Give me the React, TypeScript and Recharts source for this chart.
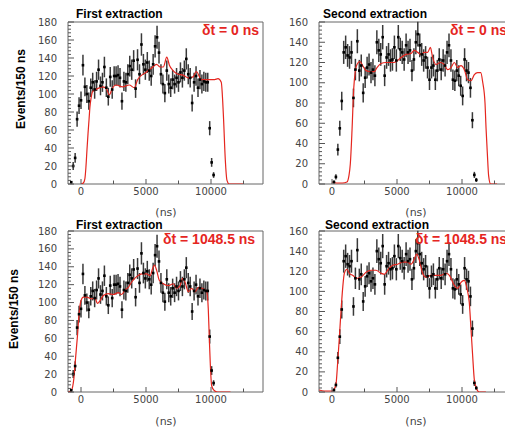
import { ComposedChart, Line, Scatter, ErrorBar, XAxis, YAxis, ReferenceArea } from 'recharts'

// histogram bins, 150 ns wide
const BIN_WIDTH = 150

const FIRST_START = -750
const FIRST_COUNTS = [
  2, 20, 29, 72, 87, 93, 132, 108, 100, 92,
  107, 113, 105, 114, 127, 109, 113, 130, 107, 97,
  119, 105, 120, 120, 121, 118, 92, 114, 113, 122,
  131, 127, 137, 106, 138, 122, 155, 133, 127, 135,
  126, 120, 133, 153, 163, 146, 122, 111, 101, 126,
  111, 107, 116, 111, 118, 113, 124, 118, 126, 139,
  122, 118, 90, 113, 120, 107, 116, 111, 114, 113,
  113, 62, 24, 10,
]

const SECOND_START = 150
const SECOND_COUNTS = [
  2, 7, 34, 55, 82, 130, 135, 127, 125, 130,
  85, 113, 141, 112, 117, 90, 105, 115, 118, 110,
  113, 107, 140, 132, 128, 145, 107, 125, 128, 122,
  123, 135, 122, 145, 133, 130, 123, 137, 130, 132,
  112, 123, 140, 148, 137, 128, 122, 125, 115, 103,
  115, 117, 103, 112, 123, 113, 122, 117, 130, 137,
  122, 103, 102, 112, 107, 97, 87, 123, 112, 110,
  95, 63, 9, 4,
]

// simulated shapes (red), [ns, events]
const FIT_FIRST_0: [number, number][] = [
  [0, 0], [180, 1], [300, 6], [380, 19], [460, 38], [540, 56], [620, 72], [690, 86], [770, 95],
  [900, 103], [1280, 106], [1670, 108], [1950, 106], [2180, 99], [2400, 106], [2690, 110],
  [3200, 108], [3720, 110], [4100, 107], [4360, 116], [4670, 121], [5000, 124], [5440, 129],
  [5820, 133], [6080, 130], [6330, 130], [6600, 141], [6800, 132], [7080, 126], [7460, 122],
  [7850, 121], [8260, 118], [8620, 119], [8870, 125], [9260, 116], [9770, 116], [10280, 116],
  [10540, 117], [10790, 113], [10900, 92], [10970, 71], [11100, 27], [11230, 4], [11400, 0],
  [12500, 0],
]

const FIT_SECOND_0: [number, number][] = [
  [0, 2], [380, 1], [800, 1], [1150, 2], [1300, 8], [1410, 20], [1540, 53], [1670, 94],
  [1800, 112], [1920, 118], [2150, 121], [2400, 116], [2620, 112], [2950, 111], [3260, 111],
  [3460, 115], [3770, 119], [4150, 120], [4740, 120], [5050, 122], [5310, 125], [5690, 128],
  [6080, 129], [6330, 132], [6590, 130], [6850, 128], [7100, 130], [7360, 130], [7570, 135],
  [7740, 125], [8000, 118], [8330, 120], [8640, 118], [8900, 113], [9150, 115], [9410, 120],
  [9670, 115], [9920, 117], [10180, 113], [10440, 103], [10690, 102], [10950, 108],
  [11200, 110], [11440, 110], [11600, 100], [11770, 80], [11850, 55], [11950, 30],
  [12050, 8], [12200, 0], [12700, 0],
]

const FIT_FIRST_DT: [number, number][] = [
  [-1000, 0], [-730, 2], [-550, 15], [-400, 41], [-270, 63], [-140, 89], [0, 102], [180, 106],
  [440, 106], [820, 104], [1080, 105], [1260, 99], [1460, 102], [1720, 108], [2100, 110],
  [2490, 109], [2870, 111], [3130, 109], [3380, 114], [3640, 117], [3900, 123], [4280, 129],
  [4670, 132], [5050, 132], [5310, 130], [5510, 138], [5640, 142], [5820, 136], [6020, 125],
  [6330, 121], [6720, 119], [7100, 121], [7360, 116], [7620, 119], [7820, 127], [8000, 123],
  [8260, 112], [8510, 116], [8770, 112], [9030, 117], [9280, 116], [9540, 114], [9670, 112],
  [9790, 93], [9870, 60], [9950, 30], [10050, 7], [10230, 2], [10500, 0], [11500, 0],
]

const FIT_SECOND_DT: [number, number][] = [
  [-1000, 2], [-600, 1], [0, 1], [180, 3], [310, 8], [440, 30], [560, 53], [690, 80],
  [820, 103], [950, 118], [1150, 122], [1330, 118], [1590, 116], [1920, 113], [2230, 114],
  [2620, 119], [3000, 121], [3380, 121], [3770, 118], [4030, 117], [4280, 121], [4670, 126],
  [5050, 127], [5440, 129], [5820, 129], [6080, 127], [6330, 132], [6510, 137], [6720, 131],
  [6970, 118], [7230, 114], [7620, 116], [8000, 116], [8380, 116], [8770, 118], [9030, 116],
  [9410, 106], [9670, 103], [9920, 109], [10180, 111], [10380, 103], [10560, 89],
  [10690, 63], [10820, 36], [10950, 12], [11130, 3], [11330, 0], [11840, 0],
]

const X_TICKS = [0, 2500, 5000, 7500, 10000, 12500]
const X_LABELS = [0, 5000, 10000]
const Y_LABELS_FIRST = [0, 20, 40, 60, 80, 100, 120, 140, 160, 180]
const Y_LABELS_SECOND = [0, 20, 40, 60, 80, 100, 120, 140, 160]

const RED = '#e5261f'
const AXIS = '#555'
const TICK_FONT = '"DejaVu Sans", sans-serif'
const LABEL_FONT = '"Liberation Sans", Arial, sans-serif'

const PAD_L = 50
const PAD_T = 12
const PAD_R = 12
const PAD_B = 40

function toPoints(start: number, counts: number[]) {
  return counts.map((n, i) => ({ x: start + i * BIN_WIDTH, y: n, err: Math.sqrt(n) }))
}

function toFit(pairs: [number, number][]) {
  return pairs.map(([x, y]) => ({ x, y }))
}

// 5 subdivisions between labelled ticks, like the ROOT default
function withMinor(labels: number[]) {
  const step = labels[1] - labels[0]
  const out: number[] = []
  labels.forEach((v, i) => {
    out.push(v)
    if (i < labels.length - 1) for (let k = 1; k < 5; k++) out.push(v + (k * step) / 5)
  })
  return out
}

interface PanelProps {
  left: number
  top: number
  width: number
  height: number
  yLabels: number[]
  points: { x: number; y: number; err: number }[]
  fit: { x: number; y: number }[]
}

function Panel({ left, top, width, height, yLabels, points, fit }: PanelProps) {
  const yMax = yLabels[yLabels.length - 1]
  const plotBottom = PAD_T + height

  const xTick = (p: any) => {
    const v = p.payload.value
    const major = X_LABELS.includes(v)
    return (
      <g>
        <line x1={p.x} x2={p.x} y1={plotBottom} y2={plotBottom - (major ? 5 : 3.5)} stroke={AXIS} />
        {major && (
          <text x={p.x} y={plotBottom + 11} textAnchor="middle" fontSize={10} fontFamily={TICK_FONT} fill="#444">
            {v}
          </text>
        )}
      </g>
    )
  }

  const yTick = (p: any) => {
    const v = p.payload.value
    const major = v % 20 === 0
    return (
      <g>
        <line x1={PAD_L} x2={PAD_L + (major ? 6 : 3)} y1={p.y} y2={p.y} stroke={AXIS} />
        {major && (
          <text x={PAD_L - 11} y={p.y + 3.5} textAnchor="end" fontSize={10} fontFamily={TICK_FONT} fill="#444">
            {v}
          </text>
        )}
      </g>
    )
  }

  const square = (p: any) => <rect x={p.cx - 1.3} y={p.cy - 1.3} width={2.6} height={2.6} fill="#000" />

  return (
    <div style={{ position: 'absolute', left: left - PAD_L, top: top - PAD_T }}>
      <ComposedChart
        width={width + PAD_L + PAD_R}
        height={height + PAD_T + PAD_B}
        margin={{ top: PAD_T, right: PAD_R, left: 0, bottom: 0 }}
      >
        <XAxis
          type="number"
          dataKey="x"
          domain={[-1000, 14000]}
          ticks={X_TICKS}
          interval={0}
          allowDataOverflow
          height={PAD_B}
          axisLine={false}
          tickLine={false}
          tickSize={0}
          tickMargin={0}
          tick={xTick}
        />
        <YAxis
          type="number"
          dataKey="y"
          domain={[0, yMax]}
          ticks={withMinor(yLabels)}
          interval={0}
          allowDataOverflow
          width={PAD_L}
          axisLine={false}
          tickLine={false}
          tickSize={0}
          tickMargin={0}
          tick={yTick}
        />
        <ReferenceArea
          x1={-1000}
          x2={14000}
          y1={0}
          y2={yMax}
          fill="#fff"
          fillOpacity={0}
          stroke="#666"
          strokeWidth={1}
          ifOverflow="visible"
        />
        <Scatter data={points} dataKey="y" shape={square} isAnimationActive={false}>
          <ErrorBar dataKey="err" direction="y" width={0} stroke="#3a3a3a" strokeWidth={1.5} />
        </Scatter>
        <Line
          data={fit}
          dataKey="y"
          type="monotone"
          stroke={RED}
          strokeWidth={1.2}
          dot={false}
          activeDot={false}
          isAnimationActive={false}
        />
      </ComposedChart>
    </div>
  )
}

export default function App() {
  const first = toPoints(FIRST_START, FIRST_COUNTS)
  const second = toPoints(SECOND_START, SECOND_COUNTS)

  return (
    <div style={{ position: 'fixed', left: 0, top: 0, width: 505, height: 430, overflow: 'hidden', background: '#fff' }}>
      <Panel left={68} top={22} width={195} height={162} yLabels={Y_LABELS_FIRST} points={first} fit={toFit(FIT_FIRST_0)} />
      <Panel left={319} top={22} width={195} height={162} yLabels={Y_LABELS_SECOND} points={second} fit={toFit(FIT_SECOND_0)} />
      <Panel left={68} top={231} width={195} height={161} yLabels={Y_LABELS_FIRST} points={first} fit={toFit(FIT_FIRST_DT)} />
      <Panel left={319} top={231} width={195} height={161} yLabels={Y_LABELS_SECOND} points={second} fit={toFit(FIT_SECOND_DT)} />

      <svg width={505} height={430} style={{ position: 'absolute', left: 0, top: 0, pointerEvents: 'none' }}>
        <g fontFamily={LABEL_FONT} fontWeight="bold">
          <text x={25} y={89} fontSize={12} textAnchor="middle" transform="rotate(-90 25 89)">Events/150 ns</text>
          <text x={18} y={309} fontSize={12} textAnchor="middle" transform="rotate(-90 18 309)">Events/150 ns</text>

          <text x={76} y={18} fontSize={12}>First extraction</text>
          <text x={323} y={18} fontSize={12}>Second extraction</text>
          <text x={76} y={229} fontSize={12}>First extraction</text>
          <text x={325} y={229} fontSize={12}>Second extraction</text>

          <text x={202} y={35} fontSize={14} fill={RED}>δt = 0 ns</text>
          <text x={450} y={35} fontSize={14} fill={RED}>δt = 0 ns</text>
          <text x={163} y={244} fontSize={14} fill={RED}>δt = 1048.5 ns</text>
          <text x={415} y={244} fontSize={14} fill={RED}>δt = 1048.5 ns</text>
        </g>
        <g fontFamily={TICK_FONT} fontSize={11} fill="#444" textAnchor="middle">
          <text x={166} y={216}>(ns)</text>
          <text x={416} y={216}>(ns)</text>
          <text x={166} y={425}>(ns)</text>
          <text x={416} y={425}>(ns)</text>
        </g>
      </svg>
    </div>
  )
}
